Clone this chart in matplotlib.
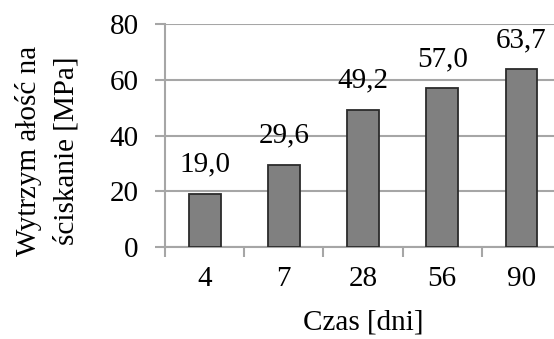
import matplotlib
matplotlib.use("Agg")
import matplotlib.pyplot as plt

# compressive strength vs. curing time
days = ["4", "7", "28", "56", "90"]
strength = [19.0, 29.6, 49.2, 57.0, 63.7]
y_ticks = [0, 20, 40, 60, 80]

plt.rcParams["font.family"] = ["Liberation Serif", "DejaVu Serif"]
FS = 21

fig = plt.figure(figsize=(5.54, 3.39), dpi=100)
ax = fig.add_axes([0.298, 0.2714, 0.7146, 0.6576])

grid_col = "#a6a6a6"
x = range(len(days))
ax.bar(x, strength, width=0.4, color="#808080", edgecolor="#2b2b2b",
       linewidth=1.3, zorder=3)

for xi, v in zip(x, strength):
    ax.annotate(f"{v:.1f}".replace(".", ","), (xi, v), xytext=(0, 16),
                textcoords="offset points", ha="center", va="baseline",
                fontsize=FS)

ax.set_xlim(-0.5, len(days) - 0.5)
ax.set_ylim(0, 80)
ax.set_yticks(y_ticks)
ax.set_xticks(list(x))
ax.set_xticklabels(days)
ax.set_xticks([i - 0.5 for i in range(len(days) + 1)], minor=True)

ax.yaxis.grid(True, color=grid_col, linewidth=1.5, zorder=0)
for side in ("top", "right"):
    ax.spines[side].set_visible(False)
for side in ("left", "bottom"):
    ax.spines[side].set_color(grid_col)
    ax.spines[side].set_linewidth(1.5)

ax.tick_params(axis="y", direction="out", length=7, width=1.5,
               color=grid_col, pad=12, labelsize=FS)
ax.tick_params(axis="x", which="major", length=0, pad=14, labelsize=FS)
ax.tick_params(axis="x", which="minor", direction="out", length=7,
               width=1.5, color=grid_col)

ax.set_xlabel("Czas [dni]", fontsize=FS, labelpad=12)
ax.set_ylabel("Wytrzym ałość na\nściskanie [MPa]", fontsize=FS,
              linespacing=1.6)
ax.yaxis.set_label_coords(-0.215, 0.43)

fig.savefig("out.png", dpi=100)
